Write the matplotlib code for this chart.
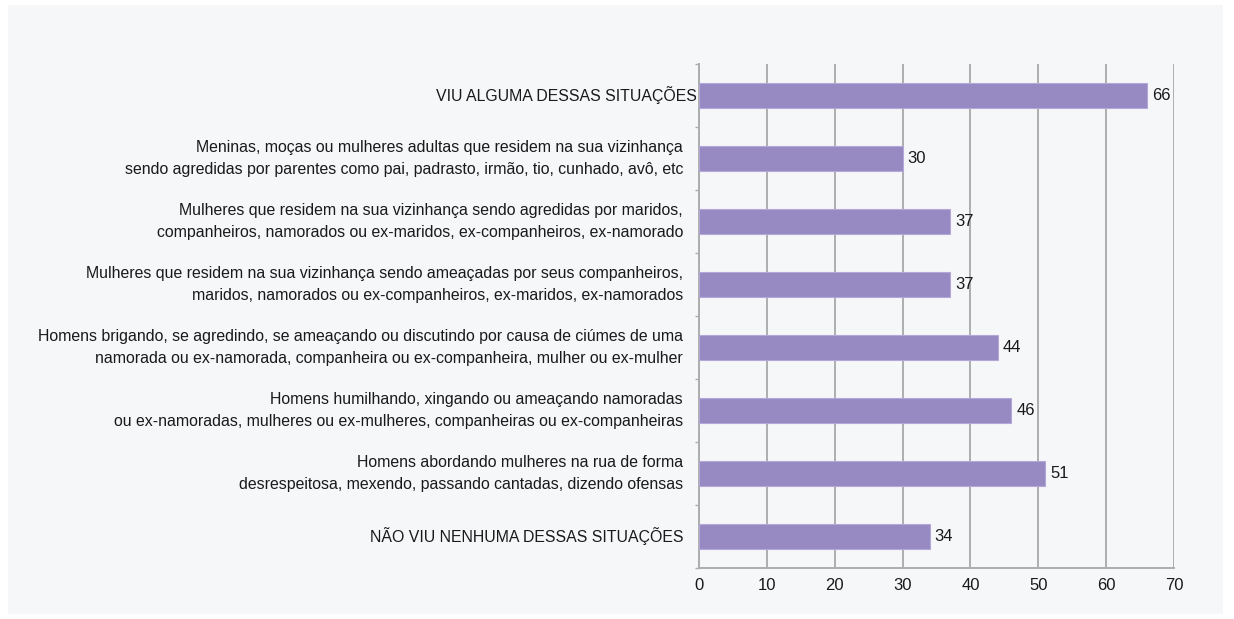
import matplotlib
matplotlib.use("Agg")
import matplotlib.pyplot as plt
from matplotlib.patches import Rectangle
from matplotlib.ticker import FixedLocator
from matplotlib.transforms import blended_transform_factory, offset_copy

plt.rcParams['font.family'] = ['Liberation Sans', 'DejaVu Sans']

labels = [
    "VIU ALGUMA DESSAS SITUAÇÕES",
    "Meninas, moças ou mulheres adultas que residem na sua vizinhança\nsendo agredidas por parentes como pai, padrasto, irmão, tio, cunhado, avô, etc",
    "Mulheres que residem na sua vizinhança sendo agredidas por maridos,\ncompanheiros, namorados ou ex-maridos, ex-companheiros, ex-namorado",
    "Mulheres que residem na sua vizinhança sendo ameaçadas por seus companheiros,\nmaridos, namorados ou ex-companheiros, ex-maridos, ex-namorados",
    "Homens brigando, se agredindo, se ameaçando ou discutindo por causa de ciúmes de uma\nnamorada ou ex-namorada, companheira ou ex-companheira, mulher ou ex-mulher",
    "Homens humilhando, xingando ou ameaçando namoradas\nou ex-namoradas, mulheres ou ex-mulheres, companheiras ou ex-companheiras",
    "Homens abordando mulheres na rua de forma\ndesrespeitosa, mexendo, passando cantadas, dizendo ofensas",
    "NÃO VIU NENHUMA DESSAS SITUAÇÕES",
]
values = [66, 30, 37, 37, 44, 46, 51, 34]
xticks = [0, 10, 20, 30, 40, 50, 60, 70]

bg = "#f6f7f9"
bar_color = "#9789c2"
grid_color = "#adadad"
text_color = "#1a1a1a"

fig = plt.figure(figsize=(12.34, 6.19), dpi=100)
fig.patch.set_facecolor("white")
fig.add_artist(Rectangle((8 / 1234, 5 / 619), 1215 / 1234, 609 / 619,
                         transform=fig.transFigure, facecolor=bg,
                         edgecolor="none", zorder=-10))

ax = fig.add_axes([699 / 1234, 1 - 568 / 619, 475 / 1234, 504 / 619])
ax.set_facecolor(bg)

ypos = list(range(len(values)))
ax.barh(ypos, values, height=0.41, color=bar_color, edgecolor="#b3a8d8",
        linewidth=0.8, zorder=3)

for y, v in zip(ypos, values):
    tr = offset_copy(ax.transData, fig=fig, x=5, y=0, units="dots")
    ax.text(v, y, str(v), transform=tr, va="center", ha="left", fontsize=12,
            color=text_color, zorder=4)

# category labels, right-aligned left of the axis
base = blended_transform_factory(ax.transAxes, ax.transData)
for i, (y, lab) in enumerate(zip(ypos, labels)):
    shift = -2 if i == 0 else -16
    tr = offset_copy(base, fig=fig, x=shift, y=0, units="dots")
    ax.text(0, y, lab, transform=tr, ha="right", va="center", fontsize=11.4,
            color=text_color, linespacing=1.55, clip_on=False)

ax.set_xlim(0, 70)
ax.set_ylim(len(values) - 0.5, -0.5)
ax.set_xticks(xticks)
ax.set_xticklabels([str(t) for t in xticks], fontsize=12, color=text_color)
ax.set_yticks(ypos)
ax.set_yticklabels([])
ax.yaxis.set_minor_locator(FixedLocator([i - 0.5 for i in range(len(values) + 1)]))
ax.tick_params(axis="y", which="major", length=0)
ax.tick_params(axis="y", which="minor", length=3, color=grid_color, width=1)
ax.tick_params(axis="x", length=0, pad=7)

ax.grid(axis="x", color=grid_color, linewidth=1.4, zorder=1)
for s in ["top", "right"]:
    ax.spines[s].set_visible(False)
for s in ["left", "bottom"]:
    ax.spines[s].set_color(grid_color)
    ax.spines[s].set_linewidth(1.4)

fig.savefig("out.png", dpi=100, facecolor=fig.get_facecolor())
